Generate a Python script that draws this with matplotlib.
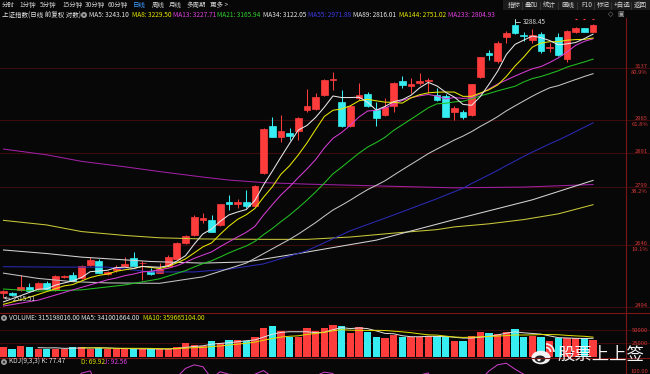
import numpy as np
import pandas as pd
import matplotlib
matplotlib.use('Agg')
import matplotlib.pyplot as plt
import matplotlib.transforms as mtransforms
from matplotlib.patches import Rectangle, Ellipse, Circle, Arc

plt.rcParams['font.family'] = ['Noto Sans CJK SC', 'DejaVu Sans']

# ---------------- data ----------------
opens = [2527.4, 2528.1, 2534.7, 2542.1, 2537.9, 2551.1, 2534.7, 2566.6, 2571.6, 2562.9,
         2596.4, 2607.1, 2572.8, 2582.7, 2593.9, 2613.1, 2600.1, 2582.2, 2577.2, 2592.6,
         2611.3, 2651.8, 2672.2, 2711.0, 2711.0, 2698.0, 2759.0, 2754.2, 2757.4, 2748.4,
         2836.9, 2967.0, 2935.0, 2948.0, 2953.7, 3011.6, 3015.0, 3056.7, 3101.1, 3034.8,
         2967.0, 3046.5, 3059.6, 3011.6, 2998.6, 3024.6, 3097.2, 3083.2, 3091.2, 3097.2,
         3056.7, 3053.8, 3008.6, 3007.2, 2998.6, 3109.1, 3182.5, 3158.2, 3232.4, 3269.2,
         3238.0, 3222.5, 3239.6, 3197.3, 3230.8, 3163.3, 3248.3, 3258.9, 3248.3]
highs = [2534.7, 2529.8, 2571.6, 2551.1, 2554.3, 2555.5, 2571.6, 2571.6, 2579.7, 2596.4,
         2615.6, 2610.1, 2581.4, 2596.4, 2615.1, 2629.7, 2606.3, 2588.9, 2602.1, 2621.4,
         2654.3, 2672.2, 2722.8, 2729.2, 2724.0, 2754.2, 2778.1, 2766.2, 2791.5, 2802.3,
         2961.4, 2992.0, 2997.2, 2960.8, 2992.9, 3074.4, 3062.6, 3104.1, 3125.9, 3071.4,
         3027.5, 3091.2, 3065.5, 3036.3, 3046.5, 3095.1, 3113.0, 3106.2, 3121.1, 3107.1,
         3077.3, 3059.6, 3024.6, 3013.0, 3089.2, 3170.3, 3191.7, 3219.4, 3252.0, 3288.45,
         3247.4, 3256.7, 3248.3, 3213.2, 3244.3, 3253.6, 3263.0, 3261.4, 3272.3]
lows = [2515.51, 2520.1, 2532.3, 2531.0, 2534.7, 2534.7, 2532.3, 2564.2, 2555.5, 2561.7,
        2593.9, 2575.2, 2570.3, 2579.0, 2591.4, 2592.6, 2559.2, 2571.6, 2575.2, 2591.4,
        2608.8, 2649.2, 2669.7, 2703.2, 2678.7, 2695.4, 2737.1, 2742.4, 2742.4, 2746.3,
        2834.7, 2934.5, 2922.7, 2927.4, 2927.4, 3007.2, 3013.0, 3053.8, 3071.4, 2964.2,
        2964.2, 3042.1, 3021.7, 2967.0, 2995.7, 3008.1, 3076.4, 3061.7, 3086.2, 3062.6,
        3039.2, 2991.5, 2984.2, 2987.1, 2995.7, 3107.1, 3161.2, 3151.3, 3212.3, 3241.1,
        3219.4, 3213.2, 3182.5, 3185.6, 3173.4, 3155.1, 3244.3, 3245.8, 3247.4]
closes = [2532.3, 2523.2, 2542.1, 2533.0, 2552.6, 2536.4, 2569.1, 2569.1, 2557.5, 2593.9,
          2608.8, 2577.2, 2579.0, 2590.1, 2598.9, 2593.9, 2601.3, 2574.0, 2585.6, 2617.2,
          2651.8, 2669.7, 2719.6, 2716.2, 2680.7, 2752.1, 2752.1, 2758.2, 2748.4, 2801.0,
          2959.4, 2936.7, 2952.9, 2938.7, 2990.0, 3024.6, 3051.7, 3099.6, 3103.2, 2967.0,
          3024.6, 3056.7, 3025.5, 2989.3, 3020.8, 3093.1, 3086.8, 3089.2, 3099.0, 3101.1,
          3040.6, 2993.7, 3018.8, 2992.0, 3087.7, 3168.8, 3174.9, 3214.2, 3243.9, 3243.0,
          3234.9, 3238.0, 3188.0, 3200.3, 3176.4, 3250.5, 3258.9, 3248.3, 3269.2]
# volume in units of 10k shares
volumes = [17540, 13790, 20050, 17540, 15040, 15040, 15040, 15040, 18800, 17540,
           15040, 16290, 13790, 15040, 15040, 13790, 15040, 13790, 13790, 15040,
           18800, 25070, 22560, 20050, 30080, 26320, 31330, 31330, 30080, 37600,
           53270, 57650, 48880, 36350, 37600, 53270, 48880, 53270, 59530, 57650,
           43870, 55150, 47000, 37600, 34470, 40730, 36350, 37600, 37600, 38850,
           38850, 36350, 30080, 30080, 38850, 47000, 45120, 42610, 47000, 51390,
           37600, 38850, 36350, 30080, 35090, 35090, 35090, 35090, 31520]

# moving-average values read off the picture where the visible closes are not enough
ma5_read_idx = [0, 2]
ma5_read_val = [2506, 2521]
ma8_read_idx = [0, 3]
ma8_read_val = [2500, 2517]
ma13_read_idx = [0, 4, 8]
ma13_read_val = [2496, 2510, 2535]
ma21_read_idx = [0, 4, 9, 14, 18]
ma21_read_val = [2537, 2532, 2535, 2547, 2562]
ma34_read_idx = [0, 4, 8, 12, 18, 23, 28]
ma34_read_val = [2576, 2563, 2555, 2552, 2551, 2567, 2601]
ma55_read_idx = [0, 6, 12, 17, 22, 26, 30, 35, 40, 45, 50, 53]
ma55_read_val = [2592, 2591, 2591, 2579, 2579, 2586, 2599, 2632, 2683, 2724, 2767, 2795]
ma89_idx = [0, 5, 9, 17, 23, 28, 34, 43, 52, 61, 68]
ma89_val = [2634, 2625, 2616, 2605, 2601, 2604, 2625, 2659, 2712, 2764, 2816.01]
ma144_idx = [0, 5, 9, 14, 18, 23, 30, 35, 40, 45, 50, 52, 56, 60, 64, 68]
ma144_val = [2710, 2698, 2681, 2671, 2665, 2662, 2661, 2661, 2667, 2677, 2686, 2693, 2701, 2712, 2727, 2751.02]
ma233_idx = [0, 5, 9, 14, 18, 23, 26, 30, 35, 45, 52, 60, 68]
ma233_val = [2902, 2886, 2868, 2853, 2840, 2825, 2817, 2810, 2806, 2800, 2796, 2798, 2804.93]

ma_header_names = ['MA5', 'MA8', 'MA13', 'MA21', 'MA34', 'MA55', 'MA89', 'MA144', 'MA233']
ma_header_vals = ['3243.10', '3229.50', '3227.71', '3165.94', '3122.05', '2971.88', '2816.01', '2751.02', '2804.93']

fib_prices = [3137, 2985, 2891, 2799, 2646, 2494]
fib_labels = ['3137', '2985', '2891', '2799', '2646', '2494']
fib_pcts = ['80.9%', '61.8%', '', '38.2%', '19.1%', '']
vol_ticks = [50000, 25000]
vol_tick_labels = ['50000', '25000']

high_label = '3288.45'
low_label = '2515.51'
title_text = '上证指数(日线 前复权 对数)'
vol_header = 'VOLUME: 315198016.00 MA5: 341001664.00'
vol_header_ma10 = 'MA10: 359665104.00'
kdj_header = ['KDJ(9,3,3) K: 77.47', 'D: 69.92', 'J: 92.56']
toolbar_left = ['分时', '1分钟', '5分钟', '15分钟', '30分钟', '60分钟', '日线', '周线', '月线', '多周期', '更多 >']
toolbar_right = ['指标', '叠加', '统计', '画线', 'F10', '标记', '+自选', '返回']
watermark = '股票上上签'

# ---------------- styles ----------------
BG = '#070707'
RED = '#ff3c3c'
CYAN = '#36eef2'
AXRED = '#d03838'
GRID = '#3c0c0c'
SEP = '#7a1616'
MA_COL = {5: '#e6e6e6', 8: '#e6e600', 13: '#d43cd4', 21: '#22c022', 34: '#c4c4c4',
          55: '#2a2ab4', 89: '#d4d4d4', 144: '#c8c83a', 233: '#a020a4'}
HEAD_COL = ['#e6e6e6', '#e6e600', '#e040e0', '#30d030', '#e6e6e6', '#3a3ae6', '#e6e6e6', '#e6e600', '#e040e0']

W, H = 650, 374
fig = plt.figure(figsize=(6.5, 3.74), dpi=100)
fig.patch.set_facecolor(BG)


def fa(x0, y0, x1, y1):
    return [x0 / W, 1 - y1 / H, (x1 - x0) / W, (y1 - y0) / H]


PR = 626
ax = fig.add_axes(fa(0, 18, PR, 313))
axv = fig.add_axes(fa(0, 313, PR, 358))
axk = fig.add_axes(fa(0, 358, PR, 374))
for a in (ax, axv, axk):
    a.set_facecolor('none')
    for s in a.spines.values():
        s.set_visible(False)
    a.set_xticks([])
    a.set_yticks([])
    a.set_xlim(-0.4, 71.8)

n = len(closes)
x = np.arange(n)
o = np.array(opens); c = np.array(closes); hi = np.array(highs); lo = np.array(lows)
up = c >= o
cols = np.where(up, RED, CYAN)

# ---- main price panel ----
ax.set_yscale('log')
ax.set_ylim(2479.3, 3291.3)
ax.yaxis.set_minor_locator(matplotlib.ticker.NullLocator())
ax.set_yticks([])

xr = 650 / PR
AXFS = 4.2
for p in fib_prices:
    ax.axhline(p, xmin=0, xmax=xr, color=GRID, lw=0.8, zorder=0, clip_on=False)
tr = mtransforms.blended_transform_factory(ax.transAxes, ax.transData)
for p, lab, pct in zip(fib_prices, fib_labels, fib_pcts):
    ax.annotate(lab, xy=(648 / PR, p), xycoords=tr, xytext=(0, 1.5), textcoords='offset pixels',
                ha='right', va='center', color=AXRED, fontsize=AXFS, annotation_clip=False)
    if pct:
        ax.annotate(pct, xy=(648 / PR, p), xycoords=tr, xytext=(0, -4.5), textcoords='offset pixels',
                    ha='right', va='center', color=AXRED, fontsize=AXFS, annotation_clip=False)

ax.vlines(x, lo, hi, colors=cols, lw=0.75, zorder=2)
ax.bar(x, np.abs(c - o), bottom=np.minimum(o, c), width=0.78, color=cols, edgecolor=cols,
       linewidth=0.5, zorder=2)

cs = pd.Series(closes)


def ma_line(period, ridx, rval):
    roll = cs.rolling(period).mean()
    xs = list(ridx) + list(range(period - 1, n))
    ys = list(rval) + list(roll.iloc[period - 1:])
    return xs, ys


for period, ridx, rval in [(233, ma233_idx, ma233_val), (144, ma144_idx, ma144_val), (89, ma89_idx, ma89_val)]:
    ax.plot(ridx, rval, color=MA_COL[period], lw=0.75, zorder=3)
for period, ridx, rval in [(55, ma55_read_idx, ma55_read_val), (34, ma34_read_idx, ma34_read_val),
                           (21, ma21_read_idx, ma21_read_val), (13, ma13_read_idx, ma13_read_val),
                           (8, ma8_read_idx, ma8_read_val), (5, ma5_read_idx, ma5_read_val)]:
    xs, ys = ma_line(period, ridx, rval)
    ax.plot(xs, ys, color=MA_COL[period], lw=0.75, zorder=3)

imax = int(np.argmax(hi))
ax.annotate(high_label, xy=(imax, hi[imax]), xytext=(8, -3), textcoords='offset pixels',
            ha='left', va='center', color='#d8d8d8', fontsize=4.6,
            arrowprops=dict(arrowstyle='-', color='#d8d8d8', lw=0.6, shrinkA=0, shrinkB=0,
                            connectionstyle='angle,angleA=0,angleB=90,rad=0'))
imin = int(np.argmin(lo))
ax.annotate(low_label, xy=(imin, lo[imin]), xytext=(9, -1), textcoords='offset pixels',
            ha='left', va='center', color='#d8d8d8', fontsize=4.6,
            arrowprops=dict(arrowstyle='->', color='#d8d8d8', lw=0.6, shrinkA=0, shrinkB=0,
                            mutation_scale=4))
# small red marks above the last candles
trx = mtransforms.blended_transform_factory(ax.transData, ax.transAxes)
ax.plot(x[-3:], [0.9956] * 3, transform=trx, ls='none', marker='_', ms=1.8, mew=0.8, color=RED, zorder=4)

# ---- volume panel ----
axv.set_ylim(-2630, 81970)
for t in vol_ticks:
    axv.axhline(t, xmin=0, xmax=xr, color=GRID, lw=0.8, zorder=0, clip_on=False)
trv = mtransforms.blended_transform_factory(axv.transAxes, axv.transData)
for t, lab in zip(vol_ticks, vol_tick_labels):
    axv.text(648 / PR, t, lab, transform=trv, ha='right', va='center', color=AXRED, fontsize=AXFS, clip_on=False)
axv.bar(x, volumes, width=0.84, color=cols, zorder=2)
vs = pd.Series(volumes)
axv.plot(x, vs.rolling(5).mean(), color='#e0e0e0', lw=0.7, zorder=3)
axv.plot(x, vs.rolling(10).mean(), color='#e0e000', lw=0.7, zorder=3)

# ---- KDJ panel ----
ls_ = pd.Series(lows); hs_ = pd.Series(highs)
llv = ls_.rolling(9, min_periods=1).min()
hhv = hs_.rolling(9, min_periods=1).max()
rsv = (cs - llv) / (hhv - llv) * 100
K = rsv.ewm(alpha=1 / 3, adjust=False).mean()
D = K.ewm(alpha=1 / 3, adjust=False).mean()
J = 3 * K - 2 * D
axk.set_ylim(95, 121.7)
axk.plot(x, K, color='#e0e0e0', lw=0.7)
axk.plot(x, D, color='#e0e000', lw=0.7)
axk.plot(x, J, color='#d040d0', lw=0.7)
trk = mtransforms.blended_transform_factory(axk.transAxes, axk.transData)
axk.text(648 / PR, 100, '100.00', transform=trk, ha='right', va='center', color=AXRED, fontsize=AXFS, clip_on=False)

# ---- overlay: frame lines, header texts, watermark ----
ov = fig.add_axes([0, 0, 1, 1])
ov.set_xlim(0, W); ov.set_ylim(H, 0); ov.axis('off')

ov.plot([PR, PR], [18, H], color=SEP, lw=0.8)
ov.plot([0, W], [313, 313], color=SEP, lw=0.8)
ov.plot([0, W], [358, 358], color=SEP, lw=0.8)

TB = dict(fontsize=4.7, va='center', ha='left')
tl_x = [2, 19, 40, 62, 85, 108, 133, 152, 169, 187, 210]
for s, xx in zip(toolbar_left, tl_x):
    ov.text(xx, 5, s, color=('#3d9cff' if s == '日线' else '#cfcfcf'), **TB)

ov.add_patch(Rectangle((503, 0), W - 503, 10, color='#1b1b1b', lw=0))
tr_x = [508, 525, 543, 561, 581, 597, 614, 634]
for s, xx in zip(toolbar_right, tr_x):
    ov.text(xx, 5, s, color='#d4d4d4', **TB)
for xx in [522, 540, 558, 577, 594, 611, 631]:
    ov.plot([xx, xx], [1.5, 8.5], color='#3a3a3a', lw=0.6)

ov.text(2, 15, title_text, color='#e6e6e6', **TB)


def gear(cx, cy):
    ov.add_patch(Circle((cx, cy), 3.0, color='#9a9a9a', lw=0))
    ov.add_patch(Circle((cx, cy), 1.1, color='#2a2a2a', lw=0))


gear(84, 15)
hx = [89, 132, 173, 217, 263, 308, 353, 399, 448]
for nm, val, col, xx in zip(ma_header_names, ma_header_vals, HEAD_COL, hx):
    ov.text(xx, 15, f'{nm}: {val}', color=col, **TB)
ov.text(611, 14.5, '◇', color='#9a9a9a', fontsize=5, ha='center', va='center', family='DejaVu Sans')
ov.text(621, 14.5, '▣', color='#9a9a9a', fontsize=5, ha='center', va='center', family='DejaVu Sans')

gear(4, 318)
ov.text(9, 318, vol_header, color='#e0e0e0', **TB)
ov.text(143, 318, vol_header_ma10, color='#e0e000', **TB)
gear(4, 362)
ov.text(9, 362, kdj_header[0], color='#e0e0e0', **TB)
ov.text(81, 362, kdj_header[1], color='#e0e000', **TB)
ov.text(104, 362, kdj_header[2], color='#e040e0', **TB)

# watermark (weibo-like logo + text)
ov.add_patch(Ellipse((541, 357.5), 19, 13.5, color='#f2f2f2', lw=0))
ov.add_patch(Ellipse((540, 359), 10.5, 7, color='#202020', lw=0))
ov.add_patch(Circle((539, 359.5), 1.7, color='#f2f2f2', lw=0))
ov.add_patch(Arc((546, 352), 9, 9, theta1=270, theta2=360, color='#f2f2f2', lw=1.2))
ov.add_patch(Arc((546, 352), 16, 16, theta1=270, theta2=360, color='#f2f2f2', lw=1.2))
ov.text(557, 355, watermark, color='#f4f4f4', fontsize=12.5, ha='left', va='center')

fig.savefig('out.png', dpi=100, facecolor=fig.get_facecolor())
